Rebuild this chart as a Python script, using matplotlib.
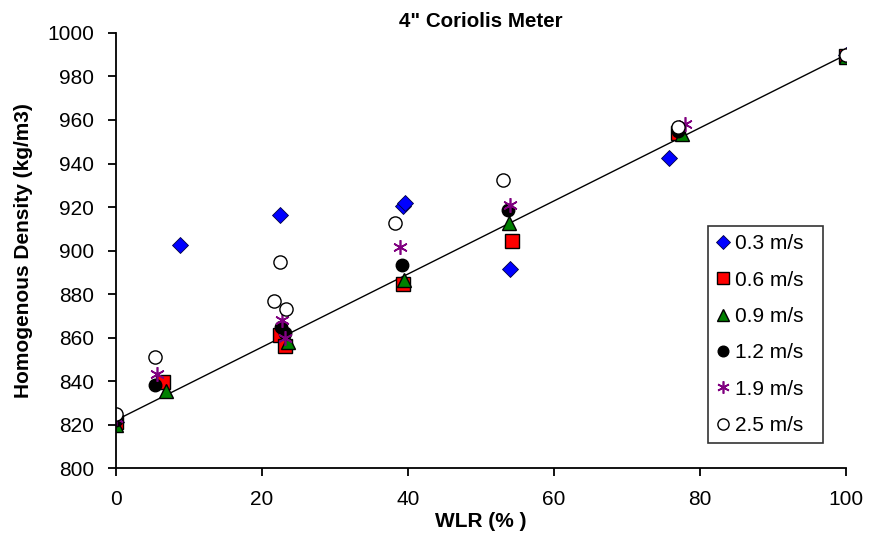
import matplotlib.pyplot as plt

plt.rcParams['font.family'] = ['Liberation Sans', 'DejaVu Sans']

# WLR (%) and homogenous density (kg/m3) per superficial velocity
wlr_03 = [0.0, 8.8, 22.5, 39.3, 39.6, 54.0, 75.8, 100.0]
rho_03 = [821, 902.5, 916.5, 920.5, 922, 891.5, 942.5, 990]

wlr_06 = [0.0, 6.4, 22.5, 23.2, 39.3, 54.2, 77.0, 100.0]
rho_06 = [821, 839.5, 861, 856, 884.5, 904.5, 954, 989.5]

wlr_09 = [0.0, 6.8, 23.5, 39.5, 53.9, 77.6, 100.0]
rho_09 = [820, 835.5, 858, 886.5, 912.5, 953.5, 989]

wlr_12 = [0.0, 5.4, 22.6, 23.1, 39.2, 53.7, 77.0, 100.0]
rho_12 = [822, 838, 865, 862, 893.5, 918.5, 955, 990]

wlr_19 = [0.0, 5.6, 22.7, 23.2, 38.9, 54.0, 78.0, 100.0]
rho_19 = [823, 843, 868, 860, 901.5, 921, 958, 990]

wlr_25 = [0.0, 5.3, 21.7, 22.5, 23.3, 38.2, 53.0, 77.0, 100.0]
rho_25 = [825, 851, 877, 894.5, 873, 912.5, 932.5, 957, 990]

# linear trendline end points
trend_wlr = [0, 100]
trend_rho = [822, 990]

fig = plt.figure(figsize=(8.71, 5.4), dpi=100)
ax = fig.add_axes([0.1332, 0.1333, 0.8381, 0.8056])

ax.plot(trend_wlr, trend_rho, color='black', lw=1, zorder=1)

ax.plot(wlr_03, rho_03, ls='none', marker='D', ms=8.5, mfc='#0000FF',
        mec='#000040', mew=0.6, label='0.3 m/s')
ax.plot(wlr_06, rho_06, ls='none', marker='s', ms=10, mfc='#FF0000',
        mec='black', mew=1, label='0.6 m/s')
ax.plot(wlr_09, rho_09, ls='none', marker='^', ms=10, mfc='#008000',
        mec='black', mew=1, label='0.9 m/s')
ax.plot(wlr_12, rho_12, ls='none', marker='o', ms=9, mfc='black',
        mec='black', mew=1, label='1.2 m/s')
ax.plot(wlr_19, rho_19, ls='none', marker=(6, 2, 0), ms=10.5, mfc='none',
        mec='#800080', mew=1.2, label='1.9 m/s')
ax.plot(wlr_25, rho_25, ls='none', marker='o', ms=9.5, mfc='white',
        mec='black', mew=1, label='2.5 m/s')

ax.set_xlim(0, 100)
ax.set_ylim(800, 1000)
ax.set_xticks(range(0, 101, 20))
ax.set_yticks(range(800, 1001, 20))

for side in ['top', 'right']:
    ax.spines[side].set_visible(False)
for side in ['left', 'bottom']:
    ax.spines[side].set_linewidth(1.3)
ax.tick_params(direction='out', length=6, width=1.3, labelsize=15, pad=10)

ax.set_title('4" Coriolis Meter', fontsize=14.8, fontweight='bold', pad=4)
ax.set_xlabel('WLR (% )', fontsize=15, fontweight='bold', labelpad=2)
ax.set_ylabel('Homogenous Density (kg/m3)', fontsize=15, fontweight='bold',
              labelpad=10)

leg = ax.legend(loc='upper left', bbox_to_anchor=(0.811, 0.06, 0.157, 0.496),
                mode='expand', borderaxespad=0, fontsize=15, frameon=True,
                fancybox=False, edgecolor='black', handlelength=0.6,
                handletextpad=0.3, labelspacing=0.83, borderpad=0.4,
                markerscale=0.85)
leg.get_frame().set_linewidth(1.2)

fig.savefig('out.png', dpi=100)
